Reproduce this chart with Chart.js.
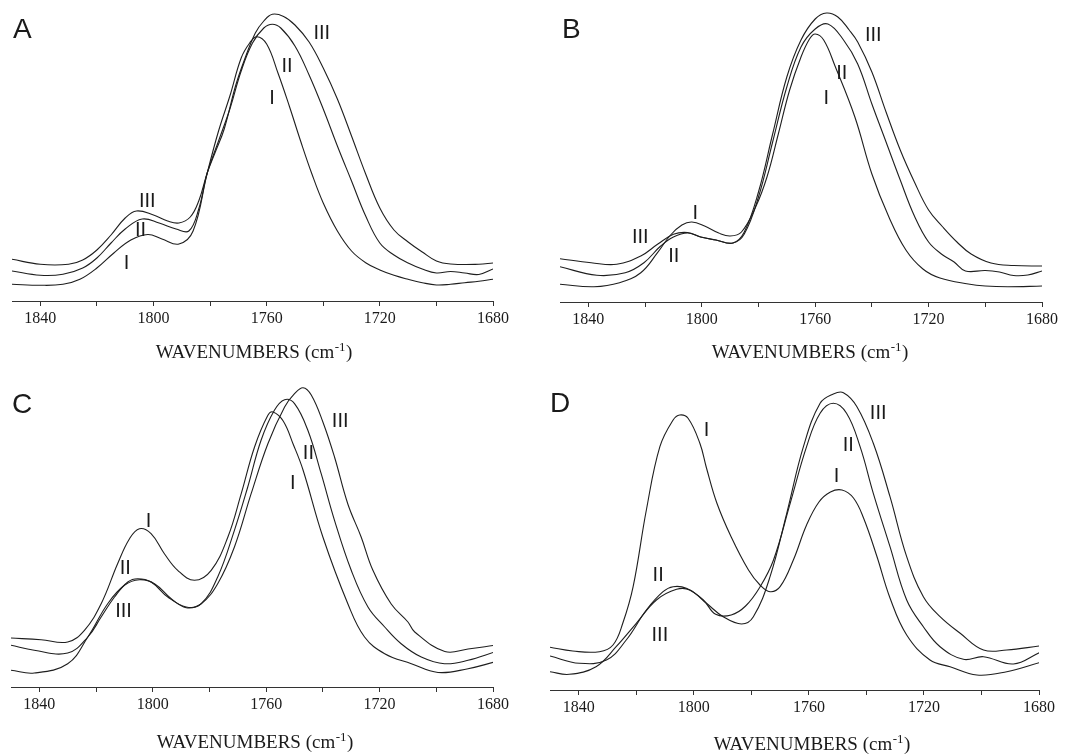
<!DOCTYPE html>
<html><head><meta charset="utf-8">
<script src="https://cdn.jsdelivr.net/npm/chart.js@4.4.1/dist/chart.umd.min.js"></script>
<style>
html,body{margin:0;padding:0;background:#fff;width:1074px;height:755px;overflow:hidden;position:relative}
canvas{position:absolute}
</style></head><body>
<canvas id="cA" width="537" height="372" style="left:0;top:0"></canvas>
<canvas id="cB" width="537" height="372" style="left:537px;top:0"></canvas>
<canvas id="cC" width="537" height="385" style="left:0;top:370px"></canvas>
<canvas id="cD" width="537" height="385" style="left:537px;top:370px"></canvas>
<script>
// ---------- axis ----------
const TICK_LABELS = [1840, 1800, 1760, 1720, 1680];
const WN_MIN = 1680, WN_MAX = 1850;

// ---------- Panel A ----------
const A_I_wn  = [1850,1840,1832,1826,1820,1814,1808,1802,1797,1791,1786,1781,1777,1773,1769,1766,1763.5,1760,1756,1752,1748,1744,1740,1735,1730,1725,1720,1715,1710,1705,1700,1695,1690,1685,1680];
const A_I     = [16.7,15.7,16.7,21.7,33,48,61,66.5,62,57,70,128,170,205,243,258,264.3,257,228,195,160,127,98,70,50,38.3,31,25.7,21.7,18.3,16,16.7,18.3,19.7,21.7];
const A_II_wn = [1850,1840,1832,1825,1820,1815,1810,1804,1798,1792,1787.5,1784,1781,1777,1773,1769,1765,1761,1758,1755,1750,1745,1740,1735,1730,1725,1720,1715,1710,1705,1700,1695,1690,1685,1680];
const A_II    = [30,25.7,26.7,33,43,58,72,82,78,72,70,92,128,160,192,230,258,273,276.7,273,255,226,192,155,120,85,58,46,38,32,28,29.5,28,26.5,32];
const A_III_wn= [1850,1840,1830,1825,1820,1815,1810,1806,1800,1795,1791,1787,1784,1781,1778,1775,1771,1768,1764,1761,1758,1754,1750,1745,1740,1735,1730,1725,1720,1715,1710,1705,1700,1695,1685,1680];
const A_III   = [41.7,36.7,36.7,41,51,66,83,90,86,80,78,84,100,128,150,172,215,240,268,280,286.7,284.5,276,259,233,202,165,127,93,71,59,49,40,37,36.7,38];
const A_LBL_TEXT = ['III','II','I','III','II','I'];
const A_LBL_WN   = [1740.5,1752.8,1758.1,1802.2,1804.6,1809.5];
const A_LBL_Y    = [267.7,234.3,202.7,99.3,71,37.7];

// ---------- Panel B ----------
const B_I_wn  = [1850,1838,1829,1821.5,1815.6,1811,1807,1803.5,1799,1794,1790,1786,1781,1777,1773,1769,1765,1762,1760,1757,1753,1746,1740,1734,1728,1722,1716,1706,1700,1692,1680];
const B_I     = [17.7,15.3,19.3,29.3,49.3,67,77,80,76,69,66,70,95,125,168,212,245,263,268,262,236,185,128,85,52,33,24,18,16,15.3,16];
const B_II_wn = [1850,1837,1827,1820.4,1814.5,1810,1805,1800.4,1795,1789,1785,1780,1775,1770,1765,1760,1755.5,1750,1745,1740,1735,1730,1725,1720,1715,1711,1707,1700,1695,1690,1685,1680];
const B_II    = [35.3,26.7,29.3,39.3,56,65,69,65,62,59,68,105,160,215,255,273,278,262,238,198,160,122,86,60,47,40,31,31.5,30,26.5,27,31];
const B_III_wn= [1850,1839,1830,1821.5,1815.6,1810,1805,1800.4,1795,1789,1785,1780,1775,1770,1765,1760,1756,1752,1748,1745,1740,1735,1730,1725,1720,1715,1710,1705,1698,1690,1680];
const B_III   = [43.3,39.3,37.7,46,57.7,67.7,69.5,65,62,59,70,110,168,225,262,283,289,285,272,260,230,190,152,120,92,75,60,48,39,36.5,36];
const B_LBL_TEXT = ['III','II','I','I','III','II'];
const B_LBL_WN   = [1739.5,1750.6,1756.1,1802.3,1821.7,1809.9];
const B_LBL_Y    = [267,228.7,203.7,88.7,64.7,45.3];

// ---------- Panel C ----------
const C_I_wn  = [1850,1839.4,1830,1824.1,1818.2,1812.4,1808.2,1804.7,1800.6,1795.9,1791.2,1785.3,1779.4,1773.5,1768.8,1764.1,1759.4,1757.6,1754,1750.5,1747,1740,1731.2,1725.3,1718.2,1708.8,1699.4,1688.8,1679.4];
const C_I     = [49,47.3,45,56.7,83.3,123.3,148.3,158.3,153.3,133.3,116.7,106.7,116.7,150,193.3,240,271.7,275,266,243,217,150,83.3,50,33.3,23.3,14.5,18.3,25];
const C_II_wn = [1850,1841.8,1830,1822.9,1818.2,1813.5,1808.8,1805.3,1800.6,1794.7,1788.2,1782.9,1777.1,1771.2,1766.5,1761.8,1757.1,1753.5,1750,1745.3,1740.6,1735.9,1730,1724.1,1718.2,1712.4,1705.3,1697.1,1688.8,1679.4];
const C_II    = [41.7,36.7,34,50,70,90,105,108.3,105,90,80,83.3,110,156.7,200,246.7,276.7,287.3,283.3,256.7,213.3,166.7,116.7,80,60,43.3,30,23.3,26.7,35];
const C_III_wn= [1850,1841.8,1830,1822.9,1815.9,1810,1804.7,1799.4,1793.5,1788.2,1782.9,1777.1,1771.2,1765.3,1759.4,1753.5,1750,1747,1744.1,1740,1735.9,1731.2,1726.5,1722.4,1715.9,1710,1707.6,1697,1688.8,1679.4];
const C_III   = [16.7,14,23.3,50,83.3,101.7,107.3,103.3,88.3,79.3,83.3,103.3,140,193.3,243.3,280,293.3,299.3,292,265,230,183,150,117,83,65,55,35.5,38,41.7];
const C_LBL_TEXT = ['III','II','I','I','II','III'];
const C_LBL_WN   = [1733.9,1745.1,1750.6,1801.5,1809.7,1810.3];
const C_LBL_Y    = [265.3,233.7,203.7,165.3,118.7,75.3];

// ---------- Panel D ----------
const D_I_wn  = [1850,1842.1,1832.8,1828.1,1824.7,1821.1,1816.5,1811.8,1807.2,1804.9,1802,1797.9,1795.6,1792,1787,1781,1777,1773.5,1770,1765.4,1760.8,1756.5,1752.5,1748.5,1744.5,1741,1736.4,1731.8,1726,1717.9,1710.9,1701.6,1691.2,1679.9];
const D_I     = [42.7,39,38.3,45,66.7,103.3,180,243.3,270,275,271.7,246.7,222,187,153,120,105,98.3,103.3,130,165,188,198,200,192,172,134,92,55,30,23.3,15,18.3,27.3];
const D_II_wn = [1850,1839.8,1830.4,1823.5,1816.5,1810.7,1807.2,1802.6,1796.7,1792.4,1787,1782,1777,1772.3,1766.5,1760.8,1756.1,1751.5,1746.9,1742.2,1737.6,1731.8,1726,1720.2,1714.4,1706.3,1699.3,1688.9,1679.9];
const D_II    = [34,26.7,30,50,80,98.3,103.3,101.7,90,75.7,75,84,103,130,186.7,243.3,276.7,286.7,276.7,243.3,196.7,143.3,90,63.3,43.3,30.7,33.3,26,37.3];
const D_III_wn= [1850,1843.3,1834,1827,1820,1813,1806,1801.4,1795.6,1789.8,1783.4,1779.3,1773.5,1767.7,1761.9,1756.1,1751.5,1748,1743.3,1737.6,1731.8,1726,1720.2,1714.4,1707.4,1699.3,1691.2,1679.9];
const D_III   = [18.3,15.7,23.3,43.3,66.7,90,100.7,100,86.7,73.3,66,73.3,113.3,176.7,243.3,286.7,296,297.3,283.3,246.7,193.3,133.3,93.3,73.3,56.7,40,40,44];
const D_LBL_TEXT = ['I','III','II','I','II','III'];
const D_LBL_WN   = [1795.6,1735.9,1746.3,1750.4,1812.4,1811.8];
const D_LBL_Y    = [260,276.7,245,213.3,115,55];

// ---------- helpers ----------
const pts = (xs, ys) => xs.map((x, i) => ({x, y: ys[i]}));
const LINE = '#1e1e1e';

const panelText = {
  id: 'panelText',
  afterDraw(chart, args, o) {
    const ctx = chart.ctx, xs = chart.scales.x, ys = chart.scales.y;
    ctx.save();
    ctx.fillStyle = '#1a1a1a';
    ctx.font = '28px "Liberation Sans", Arial, sans-serif';
    ctx.textAlign = 'left'; ctx.textBaseline = 'alphabetic';
    ctx.fillText(o.letter, o.letterX, o.letterY);
    ctx.font = '20px "Liberation Sans", Arial, sans-serif';
    ctx.textAlign = 'center'; ctx.textBaseline = 'middle';
    o.text.forEach((t, i) => ctx.fillText(t, xs.getPixelForValue(o.wn[i]), ys.getPixelForValue(o.y[i])));
    const main = 'WAVENUMBERS (cm', sup = '-1', close = ')';
    ctx.textAlign = 'left'; ctx.textBaseline = 'alphabetic';
    ctx.font = '19px "Liberation Serif", "Times New Roman", serif';
    const w1 = ctx.measureText(main).width, w3 = ctx.measureText(close).width;
    ctx.font = '13px "Liberation Serif", "Times New Roman", serif';
    const w2 = ctx.measureText(sup).width + 1;
    let x0 = o.titleX - (w1 + w2 + w3) / 2;
    ctx.font = '19px "Liberation Serif", "Times New Roman", serif';
    ctx.fillText(main, x0, o.titleY);
    ctx.font = '13px "Liberation Serif", "Times New Roman", serif';
    ctx.fillText(sup, x0 + w1 + 0.5, o.titleY - 7);
    ctx.font = '19px "Liberation Serif", "Times New Roman", serif';
    ctx.fillText(close, x0 + w1 + w2, o.titleY);
    ctx.restore();
  }
};

function makePanel(id, series, lbl, L) {
  new Chart(document.getElementById(id), {
    type: 'line',
    data: {
      datasets: series.map(s => ({
        data: pts(s[0], s[1]),
        borderColor: LINE, borderWidth: 1.1, pointRadius: 0,
        tension: 0.4, fill: false
      }))
    },
    options: {
      responsive: false, animation: false, devicePixelRatio: 1,
      layout: {padding: {left: L.padL, right: L.padR, top: 0, bottom: 0}},
      plugins: {legend: {display: false}, tooltip: {enabled: false},
        panelText: {letter: L.letter, letterX: L.letterX, letterY: L.letterY,
          text: lbl[0], wn: lbl[1], y: lbl[2], titleX: L.titleX, titleY: L.titleY}},
      scales: {
        x: {
          type: 'linear', min: WN_MIN, max: WN_MAX, reverse: true,
          afterFit: sc => { sc.height = L.scaleH; },
          grid: {display: true, drawOnChartArea: false, drawTicks: true, tickLength: 5, color: '#333', lineWidth: 1},
          border: {display: true, color: '#333', width: 1},
          ticks: {
            stepSize: 20, includeBounds: false, autoSkip: false, maxRotation: 0, padding: 3,
            color: '#1a1a1a', font: {family: '"Liberation Serif", "Times New Roman", serif', size: 16},
            callback: v => TICK_LABELS.includes(v) ? String(v) : ''
          }
        },
        y: {display: false, min: 0, max: L.ymax}
      }
    },
    plugins: [panelText]
  });
}

makePanel('cA', [[A_I_wn, A_I], [A_II_wn, A_II], [A_III_wn, A_III]],
  [A_LBL_TEXT, A_LBL_WN, A_LBL_Y],
  {padL: 12, padR: 44, scaleH: 71, ymax: 301, letter: 'A', letterX: 13, letterY: 38, titleX: 254, titleY: 358});
makePanel('cB', [[B_I_wn, B_I], [B_II_wn, B_II], [B_III_wn, B_III]],
  [B_LBL_TEXT, B_LBL_WN, B_LBL_Y],
  {padL: 23, padR: 32, scaleH: 70, ymax: 302, letter: 'B', letterX: 25, letterY: 38, titleX: 273, titleY: 358});
makePanel('cC', [[C_I_wn, C_I], [C_II_wn, C_II], [C_III_wn, C_III]],
  [C_LBL_TEXT, C_LBL_WN, C_LBL_Y],
  {padL: 11, padR: 44, scaleH: 68, ymax: 317, letter: 'C', letterX: 12, letterY: 43, titleX: 255, titleY: 378});
makePanel('cD', [[D_I_wn, D_I], [D_II_wn, D_II], [D_III_wn, D_III]],
  [D_LBL_TEXT, D_LBL_WN, D_LBL_Y],
  {padL: 13, padR: 35, scaleH: 65, ymax: 320, letter: 'D', letterX: 13, letterY: 42, titleX: 275, titleY: 380});
</script>
</body></html>
